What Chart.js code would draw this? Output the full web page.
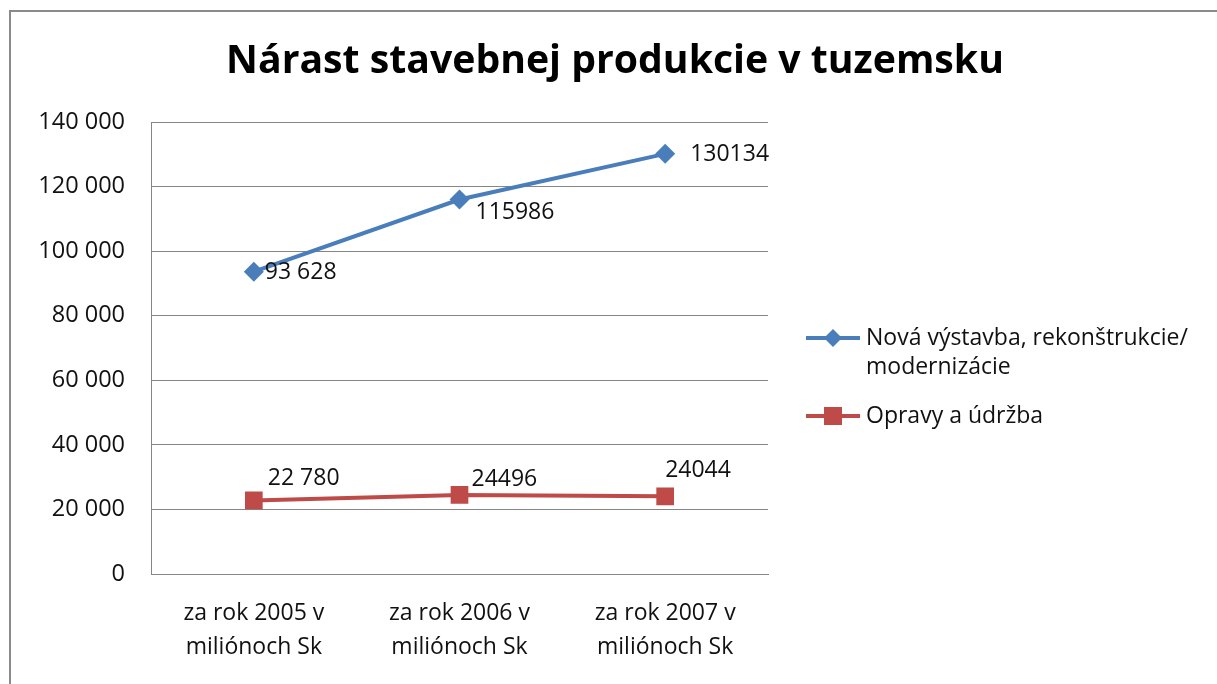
<!DOCTYPE html>
<html>
<head>
<meta charset="utf-8">
<script src="https://cdn.jsdelivr.net/npm/chart.js@4"></script>
<style>
  html, body { margin: 0; padding: 0; background: #fff; }
  #wrap { width: 1217px; height: 684px; position: relative; }
</style>
</head>
<body>
<div id="wrap"><canvas id="c" width="1217" height="684"></canvas></div>
<script>
const titleText = 'Nárast stavebnej produkcie v tuzemsku';
const categories = [['za rok 2005 v', 'miliónoch Sk'], ['za rok 2006 v', 'miliónoch Sk'], ['za rok 2007 v', 'miliónoch Sk']];
const seriesNames = ['Nová výstavba, rekonštrukcie/\nmodernizácie', 'Opravy a údržba'];
const novaValues = [93628, 115986, 130134];
const opravyValues = [22780, 24496, 24044];
const novaLabels = ['93 628', '115986', '130134'];
const opravyLabels = ['22 780', '24496', '24044'];
const yMin = 0, yMax = 140000, yStep = 20000;

const FONT = '"Open Sans", "Noto Sans", sans-serif';
const BLUE = '#4A7EBB';
const RED = '#BE4B48';

function fmt(v) { return String(v).replace(/\B(?=(\d{3})+(?!\d))/g, ' '); }

const framePlugin = {
  id: 'frame',
  beforeDraw(chart) {
    const ctx = chart.ctx;
    ctx.save();
    ctx.fillStyle = '#fff';
    ctx.fillRect(0, 0, chart.width, chart.height);
    ctx.strokeStyle = '#8a8a8a';
    ctx.lineWidth = 2;
    ctx.beginPath();
    ctx.moveTo(1217, 11);
    ctx.lineTo(10, 11);
    ctx.lineTo(10, 690);
    ctx.stroke();
    ctx.restore();
  }
};

const titlePlugin = {
  id: 'centerTitle',
  afterDraw(chart, args, opts) {
    const ctx = chart.ctx;
    ctx.save();
    ctx.font = 'bold 39.2px ' + FONT;
    ctx.fillStyle = '#000';
    ctx.textAlign = 'center';
    ctx.textBaseline = 'middle';
    ctx.fillText(opts.text, opts.x, opts.y);
    ctx.restore();
  }
};

const labelPlugin = {
  id: 'pointLabels',
  afterDatasetsDraw(chart, args, opts) {
    const ctx = chart.ctx;
    ctx.save();
    ctx.font = '23px ' + FONT;
    ctx.fillStyle = '#111';
    ctx.textAlign = 'left';
    ctx.textBaseline = 'middle';
    chart.data.datasets.forEach((ds, di) => {
      const meta = chart.getDatasetMeta(di);
      meta.data.forEach((pt, i) => {
        const off = opts.offsets[di][i];
        ctx.fillText(ds.pointLabels[i], pt.x + off[0], pt.y + off[1]);
      });
    });
    ctx.restore();
  }
};

const legendPlugin = {
  id: 'sideLegend',
  afterDraw(chart, args, opts) {
    const ctx = chart.ctx;
    ctx.save();
    ctx.font = '23px ' + FONT;
    ctx.fillStyle = '#111';
    ctx.textAlign = 'left';
    ctx.textBaseline = 'middle';
    chart.data.datasets.forEach((ds, di) => {
      const y = opts.ys[di];
      ctx.strokeStyle = ds.borderColor;
      ctx.lineWidth = 4;
      ctx.beginPath();
      ctx.moveTo(opts.x0, y);
      ctx.lineTo(opts.x1, y);
      ctx.stroke();
      const cx = (opts.x0 + opts.x1) / 2;
      ctx.fillStyle = ds.backgroundColor;
      ctx.beginPath();
      if (ds.pointStyle === 'rectRot') {
        const r = 9;
        ctx.moveTo(cx - r, y); ctx.lineTo(cx, y - r); ctx.lineTo(cx + r, y); ctx.lineTo(cx, y + r);
        ctx.closePath();
      } else {
        ctx.rect(cx - 9, y - 9, 18, 18);
      }
      ctx.fill();
      ctx.fillStyle = '#111';
      ds.label.split('\n').forEach((line, li) => {
        ctx.fillText(line, opts.tx, y + li * 29);
      });
    });
    ctx.restore();
  }
};

new Chart(document.getElementById('c'), {
  type: 'line',
  data: {
    labels: categories,
    datasets: [
      {
        label: seriesNames[0], data: novaValues, pointLabels: novaLabels,
        borderColor: BLUE, backgroundColor: BLUE, borderWidth: 4,
        pointStyle: 'rectRot', pointRadius: 10, pointHoverRadius: 10,
        pointBorderWidth: 0, tension: 0
      },
      {
        label: seriesNames[1], data: opravyValues, pointLabels: opravyLabels,
        borderColor: RED, backgroundColor: RED, borderWidth: 4,
        pointStyle: 'rect', pointRadius: 12.5, pointHoverRadius: 12.5,
        pointBorderWidth: 0, tension: 0
      }
    ]
  },
  options: {
    responsive: false,
    animation: false,
    events: [],
    layout: { padding: { left: 0, right: 449, top: 122, bottom: 0 } },
    plugins: {
      legend: { display: false },
      tooltip: { enabled: false },
      title: { display: false },
      centerTitle: { text: titleText, x: 615, y: 62 },
      pointLabels: {
        offsets: [
          [[11, 1], [16, 13], [25, 1]],
          [[14, -22], [12, -15], [0, -26]]
        ]
      },
      sideLegend: { x0: 806, x1: 860, tx: 866, ys: [338, 416] }
    },
    scales: {
      x: {
        offset: true,
        grid: { display: false, drawTicks: false },
        border: { display: true, color: '#868686', width: 1 },
        ticks: { color: '#111', font: { family: FONT, size: 23, lineHeight: 1.48 }, padding: 22, maxRotation: 0 },
        afterFit(s) { s.height = 110; }
      },
      y: {
        min: yMin, max: yMax,
        grid: { color: '#868686', lineWidth: 1, drawTicks: false },
        border: { display: true, color: '#868686', width: 1 },
        ticks: { stepSize: yStep, color: '#111', font: { family: FONT, size: 23.5 }, padding: 26, callback: v => fmt(v) },
        afterFit(s) { s.width = 151; }
      }
    }
  },
  plugins: [framePlugin, titlePlugin, labelPlugin, legendPlugin]
});
</script>
</body>
</html>
